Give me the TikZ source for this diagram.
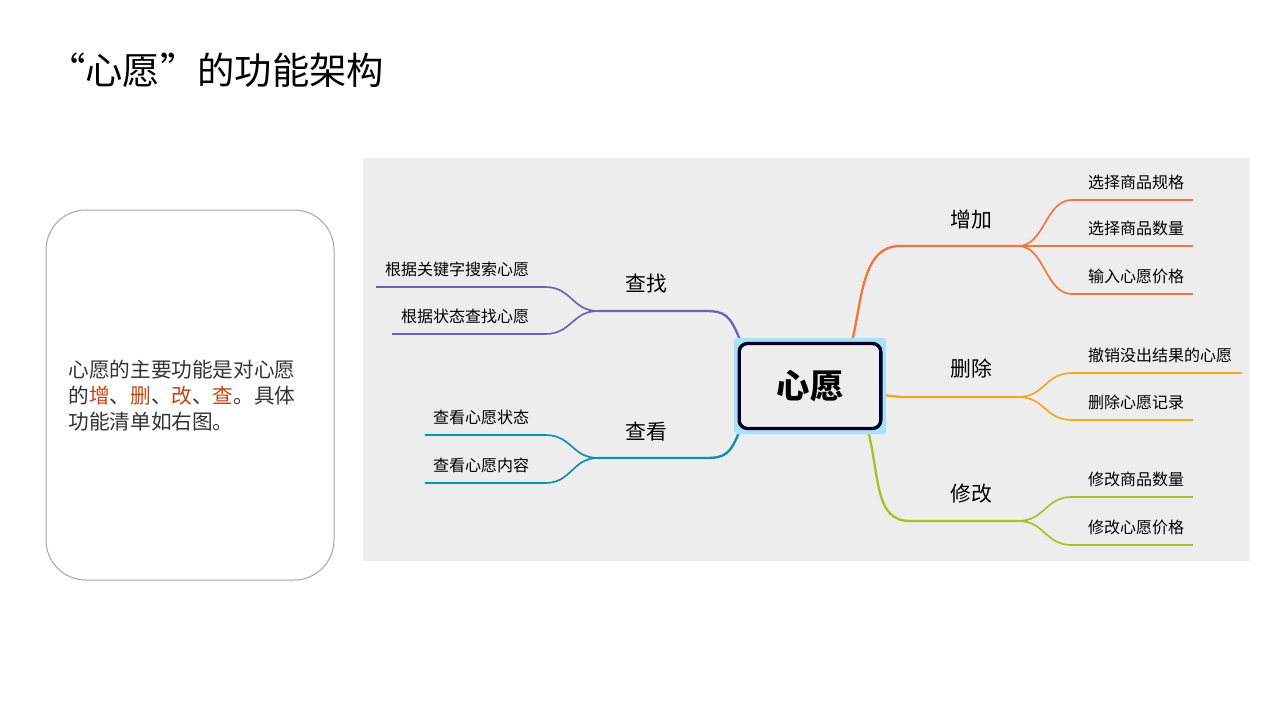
\documentclass[tikz,border=0pt]{standalone}
\usepackage{fontspec}
\setmainfont{Noto Sans CJK SC}
\usepackage{xcolor}
\usepackage{tikz}
\definecolor{cAdd}{HTML}{F4733F}
\definecolor{cDel}{HTML}{F5A623}
\definecolor{cMod}{HTML}{A8C023}
\definecolor{cFind}{HTML}{6B63B5}
\definecolor{cView}{HTML}{0E8FB0}
\definecolor{cRed}{HTML}{C4420F}
\tikzset{
  leaf/.style={font=\fontsize{9.6}{11}\selectfont, inner sep=1pt},
  branch/.style={font=\fontsize{12.5}{14}\selectfont, inner sep=1pt},
  link/.style={line width=1.4pt},
}
\begin{document}
\begin{tikzpicture}[x=0.6pt,y=-0.6pt]
\useasboundingbox (0,0) rectangle (1280,720);

\node[anchor=west,font=\fontsize{22.4}{24}\selectfont,inner sep=0pt] at(48,70) (title) {“心愿”的功能架构};

% left note
\draw[rounded corners=24pt,draw=gray!70,line width=0.6pt] (46,210) rectangle (334,580);
\node[anchor=west,align=left,font=\fontsize{12.4}{15.6}\selectfont,text=black!80,inner sep=0pt] at(68,396) (note)
  {心愿的主要功能是对心愿\\的\textcolor{cRed}{增}、\textcolor{cRed}{删}、\textcolor{cRed}{改}、\textcolor{cRed}{查}。具体\\功能清单如右图。};

% map background
\fill[black!7] (363,158) rectangle (1250,561);

% branch points
\coordinate (addp) at (1018,246);
\coordinate (delp) at (1018,397);
\coordinate (modp) at (1018,521);
\coordinate (findp) at (598,311);
\coordinate (viewp) at (598,458);

% right side
\draw[link,cAdd] (852,342) .. controls (862,300) and (862,246) .. (900,246) -- (addp);
\draw[link,cDel] (882,395) -- (900,397) -- (delp);
\draw[link,cMod] (868,430) .. controls (880,480) and (875,521) .. (910,521) -- (modp);

\foreach \y/\t in {200/选择商品规格,246/选择商品数量,294/输入心愿价格}{
  \draw[link,cAdd,line width=1pt] (addp) .. controls (1045,246) and (1045,\y) .. (1072,\y) -- (1193,\y);
  \node[leaf,anchor=south west] at(1086,\y-8) {\t};
}
\foreach \y/\x/\t in {373/1242/撤销没出结果的心愿,420/1193/删除心愿记录}{
  \draw[link,cDel,line width=1pt] (delp) .. controls (1045,397) and (1045,\y) .. (1072,\y) -- (\x,\y);
  \node[leaf,anchor=south west] at(1086,\y-8) {\t};
}
\foreach \y/\t in {497/修改商品数量,545/修改心愿价格}{
  \draw[link,cMod,line width=1pt] (modp) .. controls (1045,521) and (1045,\y) .. (1072,\y) -- (1193,\y);
  \node[leaf,anchor=south west] at(1086,\y-8) {\t};
}

% left side
\draw[link,cFind] (740,340) .. controls (730,315) and (725,311) .. (705,311) -- (findp);
\draw[link,cView] (740,430) .. controls (730,455) and (725,458) .. (705,458) -- (viewp);

\foreach \y/\x/\t in {287/376/根据关键字搜索心愿,334/392/根据状态查找心愿}{
  \draw[link,cFind,line width=1pt] (findp) .. controls (572,311) and (572,\y) .. (545,\y) -- (\x,\y);
  \node[leaf,anchor=south east] at(531,\y-8) {\t};
}
\foreach \y/\t in {435/查看心愿状态,483/查看心愿内容}{
  \draw[link,cView,line width=1pt] (viewp) .. controls (572,458) and (572,\y) .. (545,\y) -- (425,\y);
  \node[leaf,anchor=south east] at(531,\y-8) {\t};
}

\node[branch] at(971,220) (add) {增加};
\node[branch] at(971,369) (del) {删除};
\node[branch] at(971,494) (mod) {修改};
\node[branch] at(646,284) (find) {查找};
\node[branch] at(646,432) (view) {查看};

% centre
\fill[cyan!35,rounded corners=2pt] (734,338) rectangle (886,434);
\node[draw=black!85!blue,fill=black!7,line width=2pt,rounded corners=5pt,
  minimum width=85pt,minimum height=51pt,font=\fontsize{20}{22}\selectfont\bfseries] at(810,386) (wish) {心愿};
\end{tikzpicture}
\end{document}
